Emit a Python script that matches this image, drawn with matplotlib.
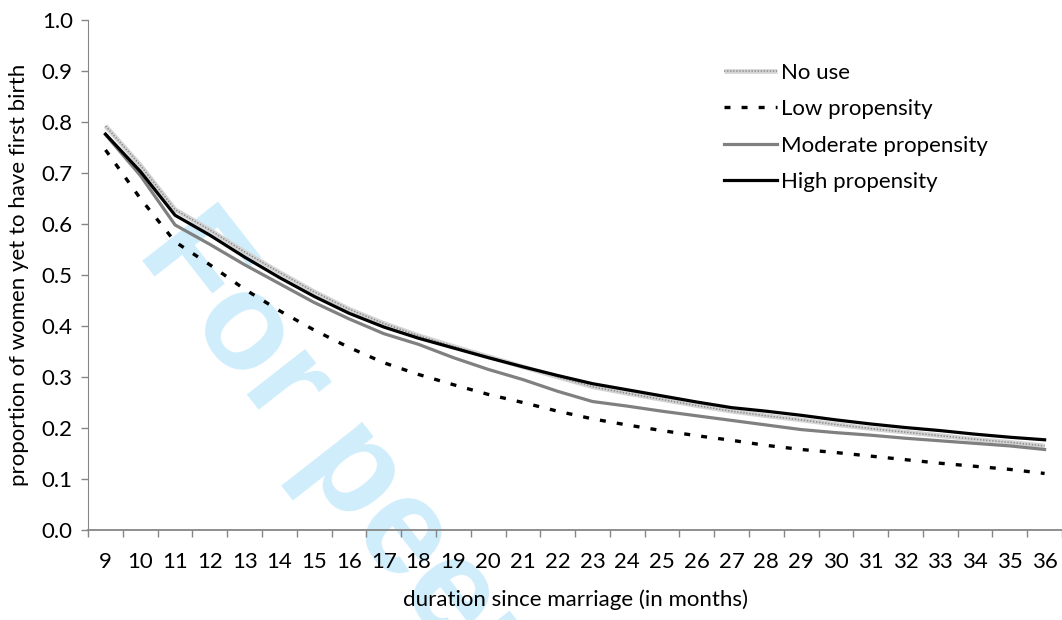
import matplotlib
matplotlib.use('Agg')
import matplotlib.pyplot as plt
from matplotlib.ticker import FixedLocator, FormatStrFormatter

plt.rcParams['font.family'] = ['Lato', 'DejaVu Sans']
plt.rcParams['lines.scale_dashes'] = False

# months since marriage (x categories)
months = list(range(9, 37))

# proportion still without a first birth, by propensity group
no_use = [0.792, 0.715, 0.628, 0.588, 0.545, 0.505, 0.467, 0.433, 0.405, 0.381,
          0.360, 0.340, 0.320, 0.300, 0.281, 0.268, 0.256, 0.244, 0.233, 0.224,
          0.216, 0.207, 0.199, 0.192, 0.185, 0.178, 0.172, 0.165]
low = [0.745, 0.650, 0.565, 0.520, 0.472, 0.430, 0.392, 0.358, 0.328, 0.305,
       0.285, 0.266, 0.250, 0.233, 0.218, 0.206, 0.195, 0.185, 0.176, 0.166,
       0.158, 0.152, 0.145, 0.138, 0.131, 0.125, 0.119, 0.111]
moderate = [0.775, 0.695, 0.598, 0.560, 0.520, 0.483, 0.446, 0.414, 0.385,
            0.364, 0.338, 0.315, 0.295, 0.272, 0.252, 0.243, 0.233, 0.224,
            0.215, 0.206, 0.197, 0.191, 0.186, 0.180, 0.175, 0.170, 0.165,
            0.158]
high = [0.776, 0.703, 0.617, 0.578, 0.535, 0.495, 0.458, 0.425, 0.398, 0.376,
        0.357, 0.338, 0.320, 0.303, 0.287, 0.275, 0.263, 0.251, 0.240, 0.233,
        0.225, 0.216, 0.208, 0.201, 0.195, 0.188, 0.182, 0.177]

axis_grey = '#868686'
fs = 16

fig = plt.figure(figsize=(10.62, 6.2), dpi=100)
ax = fig.add_axes([0.083, 0.145, 0.917, 0.823])
ax.set_facecolor('none')

# watermark, kept under the axes and all labels
fig.text(0.128, 0.592, 'For peer review', fontsize=100, fontweight='bold',
         family='Liberation Sans', color='#cfedfb', rotation=-52,
         rotation_mode='anchor', ha='left', va='baseline', zorder=-1)

nu_base, = ax.plot(months, no_use, color='#d4d4d4', lw=3.4,
                   solid_capstyle='butt', zorder=2)
nu_dots, = ax.plot(months, no_use, color='#8a8a8a', lw=1.1,
                   dashes=(1.0, 1.2), zorder=2)
ln_low, = ax.plot(months, low, color='black', lw=2.4, dashes=(4.3, 8.0),
                  zorder=3)
ln_mod, = ax.plot(months, moderate, color='#808080', lw=2.3, zorder=3)
ln_high, = ax.plot(months, high, color='black', lw=2.3, zorder=4)

ax.set_xlim(8.5, 36.5)
ax.set_ylim(0, 1.0)

ax.xaxis.set_major_locator(FixedLocator(months))
ax.xaxis.set_minor_locator(FixedLocator([m - 0.5 for m in months] + [36.5]))
ax.tick_params(axis='x', which='major', length=0, pad=16, labelsize=fs)
ax.tick_params(axis='x', which='minor', length=5, width=1, color=axis_grey,
               direction='out')
ax.set_yticks([i / 10 for i in range(11)])
ax.yaxis.set_major_formatter(FormatStrFormatter('%.1f'))
ax.tick_params(axis='y', length=5, width=1, color=axis_grey, labelsize=fs,
               pad=6)

for side in ['top', 'right']:
    ax.spines[side].set_visible(False)
ax.spines['left'].set_color(axis_grey)
ax.spines['bottom'].set_color(axis_grey)
ax.spines['bottom'].set_linewidth(1.3)

ax.set_xlabel('duration since marriage (in months)', fontsize=fs, labelpad=12)
ax.set_ylabel('proportion of women yet to have first birth', fontsize=fs,
              labelpad=9)

leg = ax.legend([(nu_base, nu_dots), ln_low, ln_mod, ln_high],
                ['No use', 'Low propensity', 'Moderate propensity',
                 'High propensity'],
                loc='upper left', bbox_to_anchor=(0.673, 0.913),
                bbox_transform=fig.transFigure, frameon=False, fontsize=fs,
                handlelength=2.4, handletextpad=0.2, labelspacing=0.74,
                borderaxespad=0)

fig.savefig('out.png', dpi=100)
